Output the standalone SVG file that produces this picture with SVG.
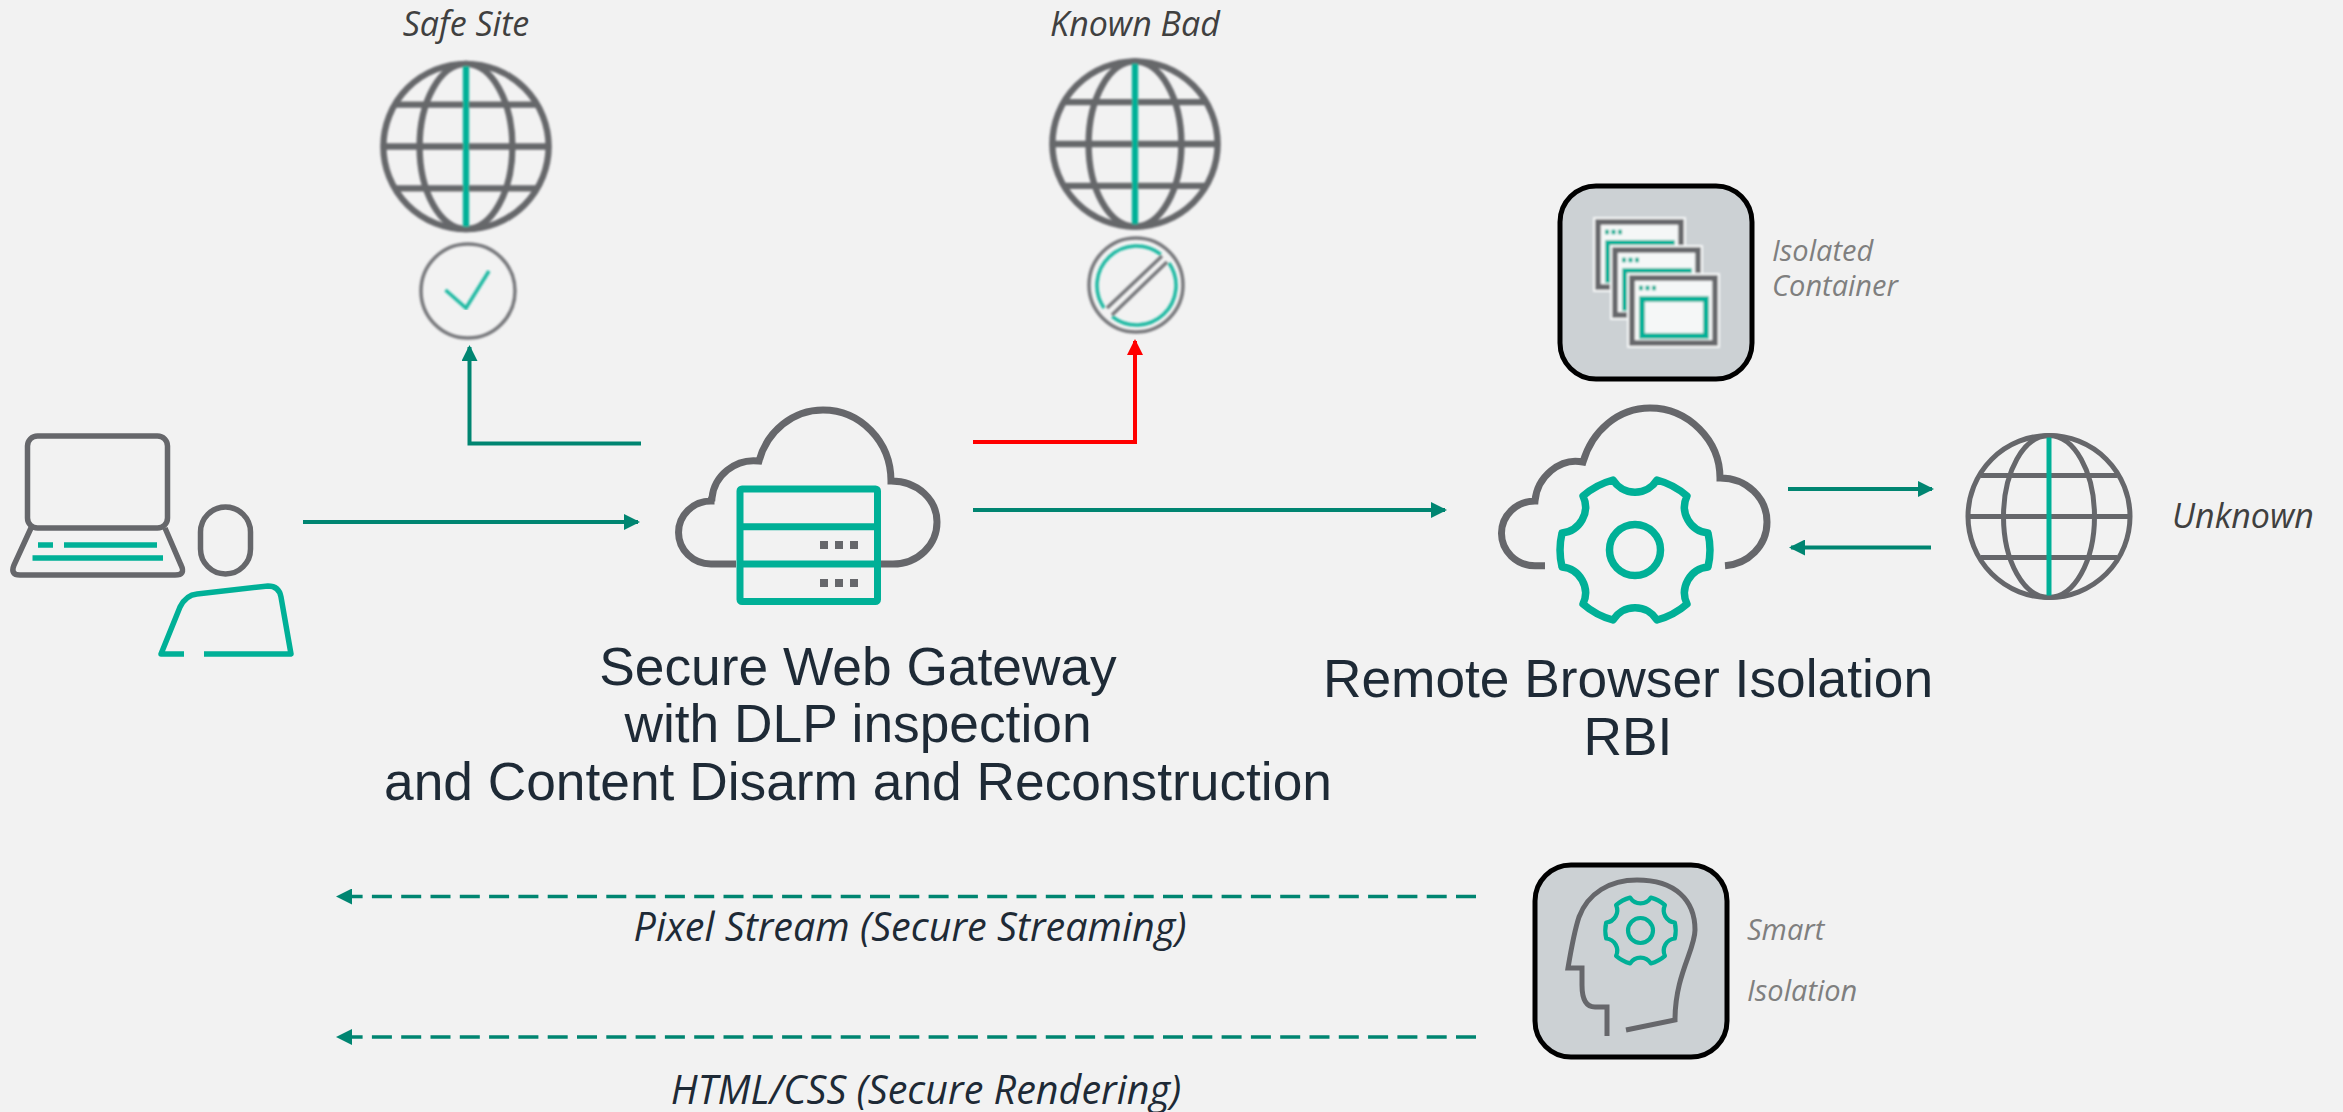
<svg xmlns="http://www.w3.org/2000/svg" width="2343" height="1112" viewBox="0 0 2343 1112">
<style>
.g{fill:none;stroke:#66676b;stroke-width:7}
.t{fill:none;stroke:#00b097;stroke-width:7}
.a{fill:none;stroke:#008571;stroke-width:4}
.d{stroke-dasharray:20 9.300;stroke-width:3.500}
.title{font-family:"Liberation Sans",Arial,sans-serif;font-size:53.300px;fill:#1e2a36;text-anchor:middle}
.lab{font-family:"Open Sans","Noto Sans",sans-serif;font-style:italic;font-size:34px;fill:#404040}
.str{font-family:"Open Sans","Noto Sans",sans-serif;font-style:italic;font-size:39.500px;fill:#1e2a36;text-anchor:middle}
.sm{font-family:"Open Sans","Noto Sans",sans-serif;font-style:italic;font-size:29px;fill:#7f7f7f}
.box{fill:#ccd1d4;stroke:#000;stroke-width:5}
</style>
<defs>
<marker id="ag" viewBox="0 0 16 16" refX="14" refY="8" markerWidth="16" markerHeight="16" markerUnits="userSpaceOnUse" orient="auto"><path d="M0 0L16 8L0 16Z" fill="#008571"/></marker>
<marker id="ar" viewBox="0 0 16 16" refX="14" refY="8" markerWidth="16" markerHeight="16" markerUnits="userSpaceOnUse" orient="auto"><path d="M0 0L16 8L0 16Z" fill="#f00"/></marker>
<filter id="b" x="-5%" y="-5%" width="110%" height="110%"><feGaussianBlur stdDeviation="0.8"/></filter>
<path id="gear" d="M-22-70A26 26 0 0 0 22-70A75 75 0 0 1 52-54A26 26 0 0 0 73-17A75 75 0 0 1 73 17A26 26 0 0 0 52 54A75 75 0 0 1 22 70A26 26 0 0 0-22 70A75 75 0 0 1-52 54A26 26 0 0 0-73 17A75 75 0 0 1-73-17A26 26 0 0 0-52-54A75 75 0 0 1-22-70Z" fill="none" stroke="#00b097" stroke-linejoin="round"/>
<g id="globe" fill="none">
<circle r="81" stroke="#66676b"/>
<ellipse rx="45.500" ry="81" stroke="#66676b"/>
<path d="M-81 0H81M-68-41H68M-68 41H68" stroke="#66676b"/>
<path d="M0-79V79" stroke="#00b097"/>
</g>
<g id="win">
<rect width="93" height="75" fill="#f5f7f7"/>
<rect x="5" y="5" width="83" height="65" fill="none" stroke="#66676b" stroke-width="5.500"/>
<path d="M12 15h19" stroke="#00b097" stroke-width="4.500" stroke-dasharray="4 2.500"/>
<rect x="15" y="26" width="64" height="37" fill="none" stroke="#00b097" stroke-width="5.500"/>
</g>
</defs>
<rect width="2343" height="1112" fill="#f2f2f2"/>
<g id="connectors">
<path class="a" d="M303 522H638" marker-end="url(#ag)"/>
<path class="a" d="M641 443.500H469.500V347" marker-end="url(#ag)"/>
<path d="M973 442H1135V341" fill="none" stroke="#f00" stroke-width="4" marker-end="url(#ar)"/>
<path class="a" d="M973 510H1445" marker-end="url(#ag)"/>
<path class="a" d="M1788 489H1932" marker-end="url(#ag)"/>
<path class="a" d="M1931 547.500H1791" marker-end="url(#ag)"/>
<path class="a d" d="M1476 896.500H338" marker-end="url(#ag)"/>
<path class="a d" d="M1476 1037H338" marker-end="url(#ag)"/>
</g>
<g id="user">
<rect x="27.500" y="436" width="140" height="92" rx="10" fill="none" stroke="#66676b" stroke-width="5.500"/>
<path d="M31 528L14 565Q10 575 20 575H175Q186 575 181 565L165 528" fill="none" stroke="#66676b" stroke-width="5.500"/>
<path d="M38 545H53M64 545H157M32.500 558H163" stroke="#00b097" stroke-width="5.500" fill="none"/>
<rect x="200.500" y="507" width="50" height="67" rx="25" fill="none" stroke="#66676b" stroke-width="5.500"/>
<path d="M184 654H161L180 607Q186 595 197 594L268 586Q279 586 281 597L291 654H204" fill="none" stroke="#00b097" stroke-width="5.500" stroke-linejoin="round"/>
</g>
<g id="safe-site">
<text class="lab" x="466" y="36" text-anchor="middle">Safe Site</text>
<use href="#globe" transform="translate(466 146.500) scale(1.02)" stroke-width="6.200" filter="url(#b)"/>
<circle cx="468" cy="291" r="47" fill="none" stroke="#77787c" stroke-width="3.500" filter="url(#b)"/>
<path d="M445.500 290L466 308L489 271" fill="none" stroke="#1fb9a2" stroke-width="3.500" filter="url(#b)"/>
</g>
<g id="known-bad">
<text class="lab" x="1135" y="36" text-anchor="middle">Known Bad</text>
<use href="#globe" transform="translate(1135 144) scale(1.02)" stroke-width="6.200" filter="url(#b)"/>
<g filter="url(#b)">
<circle cx="1136" cy="285" r="47" fill="none" stroke="#77787c" stroke-width="3.500"/>
<path d="M1160.800 254.300A39.500 39.500 0 0 0 1104 307.900M1169 263.100A39.500 39.500 0 0 1 1112.200 316.700" fill="none" stroke="#1fb9a2" stroke-width="3.500"/>
<path d="M1107 308L1162 256M1112 315L1167 262" fill="none" stroke="#77787c" stroke-width="3.500"/>
</g>
</g>
<g id="swg">
<path class="g" d="M736 564H711A32.500 31.500 0 0 1 711 501Q711 498 712 498C714 476 735 458 759 461C767 431 793 410 823 410C860 410 891 441 891 481C918 481 937 500 937 522C937 545 918 564 893 564H881"/>
<rect class="t" x="740" y="489" width="137.500" height="112.500" rx="2"/>
<path class="t" d="M740 526.700H877M740 564H877"/>
<path d="M820 541h8v8h-8zM835 541h8v8h-8zM850 541h8v8h-8zM820 579h8v8h-8zM835 579h8v8h-8zM850 579h8v8h-8z" fill="#66676b"/>
<text class="title"><tspan x="858" y="685">Secure Web Gateway</tspan><tspan x="858" y="741.500">with DLP inspection</tspan><tspan x="858" y="800">and Content Disarm and Reconstruction</tspan></text>
</g>
<g id="rbi">
<path class="g" d="M1545 565.700H1535A33.500 32.300 0 0 1 1535 501C1537 477 1560 457 1583 462C1592 431 1618 408 1650 408C1688 408 1720 440 1720 478C1747 478 1767 498 1767 522C1767 546 1748 564 1725 565.700"/>
<use href="#gear" x="1635" y="550" stroke-width="7.500"/>
<circle cx="1635" cy="550" r="25.500" fill="none" stroke="#00b097" stroke-width="7.500"/>
<text class="title"><tspan x="1628" y="697">Remote Browser Isolation</tspan><tspan x="1628" y="755">RBI</tspan></text>
</g>
<g id="isolated-container">
<rect class="box" x="1560" y="186" width="192" height="193" rx="36"/>
<g filter="url(#b)">
<use href="#win" x="1593" y="217"/>
<use href="#win" x="1610" y="245"/>
<use href="#win" x="1627" y="273"/>
</g>
<text class="sm" x="1772" y="261">Isolated</text>
<text class="sm" x="1772" y="296">Container</text>
</g>
<g id="unknown">
<use href="#globe" x="2049" y="516.500" stroke-width="5"/>
<text class="lab" x="2172" y="528">Unknown</text>
</g>
<g id="smart-isolation">
<rect class="box" x="1535" y="865" width="192" height="192" rx="36"/>
<path d="M1607 1036V1007H1595C1585 1007 1582 998 1582 985V968H1568C1571 950 1574 932 1579 917C1588 893 1610 880 1637 880C1675 880 1695 900 1695 930C1695 950 1675 975 1675 1020L1626 1030" fill="none" stroke="#66676b" stroke-width="5"/>
<use href="#gear" transform="translate(1640.500 930.500) scale(.47)" stroke-width="9"/>
<circle cx="1640.500" cy="930.500" r="12.500" fill="none" stroke="#00b097" stroke-width="4.200"/>
<text class="sm" x="1747" y="940">Smart</text>
<text class="sm" x="1747" y="1001">Isolation</text>
</g>
<g id="stream-labels">
<text class="str" x="910" y="940.500">Pixel Stream (Secure Streaming)</text>
<text class="str" x="926" y="1103.500">HTML/CSS (Secure Rendering)</text>
</g>
</svg>
